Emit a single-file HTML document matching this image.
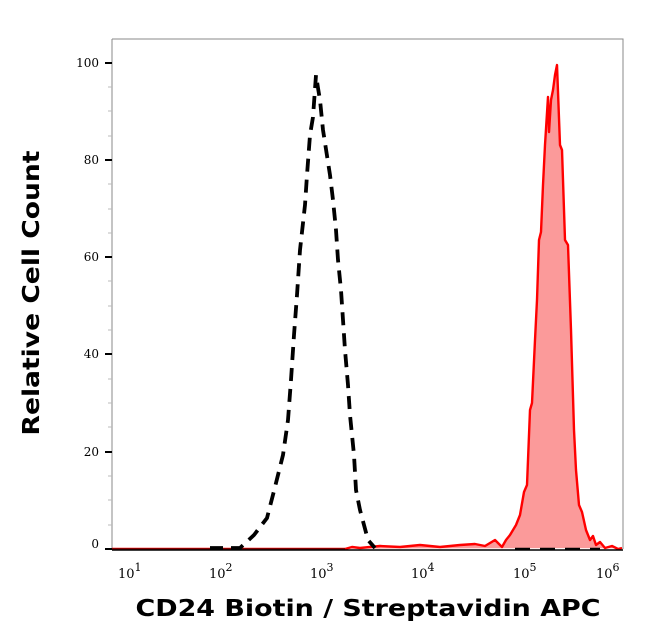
<!DOCTYPE html>
<html><head><meta charset="utf-8"><style>
html,body{margin:0;padding:0;background:#fff;}
svg{display:block;}
</style></head><body>
<svg width="650" height="638" viewBox="0 0 650 638" xmlns="http://www.w3.org/2000/svg">
<rect width="650" height="638" fill="#fff"/>
<path d="M112,39 H623 V549" fill="none" stroke="#888" stroke-width="1"/>
<line x1="112" y1="39" x2="112" y2="549" stroke="#888" stroke-width="1"/>
<path d="M112,549 L345,549 L352,547 L360,548 L380,546 L400,547 L420,545 L440,547 L460,545 L475,544 L485,546 L495,540 L500,545 L502,547 L506,540 L510,535 L516,525 L520,515 L524,492 L527,485 L530,410 L532,403 L535,340 L537,300 L539,240 L541,232 L543,185 L545,145 L548,97 L549,132 L551,100 L553,90 L555,75 L557,65 L560,145 L562,150 L565,240 L568,245 L571,330 L574,430 L576,470 L579,505 L582,512 L586,530 L590,540 L593,536 L596,545 L600,542 L605,548 L612,546 L618,549 L622,548" fill="#fb9a9a" stroke="#f00" stroke-width="2.4" stroke-linejoin="round"/>
<line x1="112" y1="549" x2="345" y2="549" stroke="#8b0000" stroke-width="2"/>
<path d="M210,548 L240,548 L254,535 L267,518 L275,487 L283,455 L288,420 L291,380 L294,335 L297,295 L300,250 L305,205 L307,175 L310,135 L313,117 L316,75 L318,88 L320,100 L323,130 L330,175 L333,200 L336,230 L338,260 L341,290 L343,320 L345,350 L348,385 L350,415 L354,455 L356,490 L360,510 L368,540 L375,548" fill="none" stroke="#000" stroke-width="3.8" stroke-dasharray="13 8"/>
<path d="M515,549 H530 M540,549 H555 M565,549 H580 M590,549 H600" stroke="#000" stroke-width="2.5"/>
<g stroke="#000" stroke-width="2">
<line x1="105" y1="63" x2="112" y2="63"/><line x1="105" y1="160" x2="112" y2="160"/>
<line x1="105" y1="257" x2="112" y2="257"/><line x1="105" y1="354" x2="112" y2="354"/>
<line x1="105" y1="452" x2="112" y2="452"/><line x1="105" y1="549" x2="112" y2="549"/>
</g>
<g stroke="#bbb" stroke-width="1">
<line x1="108" y1="87" x2="112" y2="87"/><line x1="108" y1="111" x2="112" y2="111"/><line x1="108" y1="136" x2="112" y2="136"/>
<line x1="108" y1="184" x2="112" y2="184"/><line x1="108" y1="209" x2="112" y2="209"/><line x1="108" y1="233" x2="112" y2="233"/>
<line x1="108" y1="281" x2="112" y2="281"/><line x1="108" y1="306" x2="112" y2="306"/><line x1="108" y1="330" x2="112" y2="330"/>
<line x1="108" y1="379" x2="112" y2="379"/><line x1="108" y1="403" x2="112" y2="403"/><line x1="108" y1="427" x2="112" y2="427"/>
<line x1="108" y1="476" x2="112" y2="476"/><line x1="108" y1="500" x2="112" y2="500"/><line x1="108" y1="525" x2="112" y2="525"/>
</g>
<g font-family="DejaVu Serif, Liberation Serif, serif" font-size="12" text-anchor="end" fill="#000">
<text x="99" y="67">100</text><text x="99" y="164">80</text><text x="99" y="261">60</text>
<text x="99" y="358">40</text><text x="99" y="456">20</text><text x="99" y="548">0</text>
</g>
<g id="xt" stroke="#000" stroke-width="1.5"></g>
<line x1="112" y1="550" x2="623" y2="550" stroke="#000" stroke-width="1.5"/>
<g font-family="DejaVu Serif, Liberation Serif, serif" font-size="13" fill="#000">
<text x="118" y="578">10<tspan dy="-7" font-size="11">1</tspan></text>
<text x="209" y="578">10<tspan dy="-7" font-size="11">2</tspan></text>
<text x="310" y="578">10<tspan dy="-7" font-size="11">3</tspan></text>
<text x="411" y="578">10<tspan dy="-7" font-size="11">4</tspan></text>
<text x="513" y="578">10<tspan dy="-7" font-size="11">5</tspan></text>
<text x="596" y="578">10<tspan dy="-7" font-size="11">6</tspan></text>
</g>
<text x="368" y="616" text-anchor="middle" font-family="DejaVu Sans, sans-serif" font-weight="bold" font-size="23" textLength="465" lengthAdjust="spacingAndGlyphs">CD24 Biotin / Streptavidin APC</text>
<text transform="translate(39,293) rotate(-90)" text-anchor="middle" font-family="DejaVu Sans, sans-serif" font-weight="bold" font-size="23" textLength="285" lengthAdjust="spacingAndGlyphs">Relative Cell Count</text>
<script>
var g=document.getElementById('xt'),s='';
var x0=113.6,d=101.1;
for(var k=0;k<5;k++){for(var m=1;m<=9;m++){var x=x0+d*(k+Math.log10(m));var h=m==1?7:3;s+='<line x1="'+x+'" y1="550" x2="'+x+'" y2="'+(550+h)+'"/>';}}
var x=x0+5*d;s+='<line x1="'+x+'" y1="550" x2="'+x+'" y2="557"/>';
g.innerHTML=s;
</script>
</svg>
</body></html>
